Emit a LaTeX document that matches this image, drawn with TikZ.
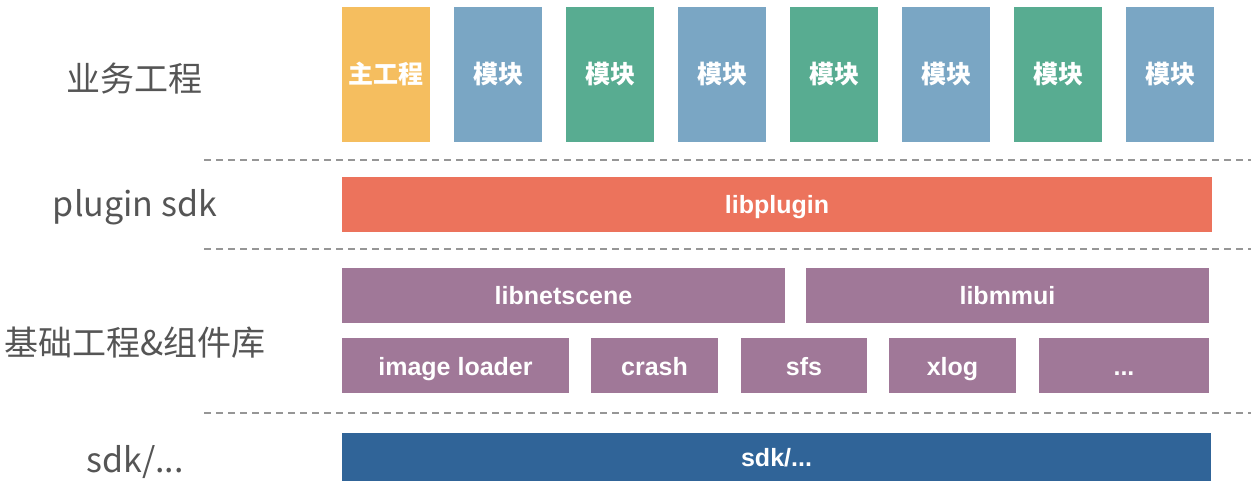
\documentclass[tikz,border=0pt]{standalone}
\usepackage{fontspec}
\setmainfont{Liberation Sans}
\newfontfamily\cjk{Noto Sans CJK SC}
\usetikzlibrary{positioning}
\definecolor{mainorange}{RGB}{245,190,95}
\definecolor{modblue}{RGB}{122,166,196}
\definecolor{modgreen}{RGB}{88,172,145}
\definecolor{pluginred}{RGB}{236,115,92}
\definecolor{basepurple}{RGB}{160,120,152}
\definecolor{sdkblue}{RGB}{48,100,152}
\definecolor{labelgray}{RGB}{85,85,85}
\definecolor{sepgray}{RGB}{150,150,150}
\begin{document}
\begin{tikzpicture}[
    x=1pt, y=-1pt,
    node distance=24pt,
    layer/.style={text=labelgray, inner sep=0pt, font=\cjk\fontsize{34}{40}\selectfont},
    block/.style={rectangle, inner sep=0pt, outer sep=0pt, text=white, minimum height=55pt, text height=21pt, text depth=2pt, font=\bfseries\fontsize{25}{30}\selectfont},
    module/.style={block, minimum width=88pt, minimum height=135pt, font=\cjk\bfseries\fontsize{25}{30}\selectfont},
    sep/.style={sepgray, line width=1.2pt, dash pattern=on 7pt off 5pt}
]
\useasboundingbox (0,0) rectangle (1251,497);

% layer names
\node[layer] (bizlabel) at (134,79) {业务工程};
\node[layer] (pluginlabel) at (135,207) {plugin sdk};
\node[layer] (baselabel) at (135,343) {基础工程\&组件库};
\node[layer] (sdklabel) at (135,462) {sdk/...};

% business layer
\node[module, fill=mainorange, anchor=north west] (main) at (342,7) {主工程};
\node[module, fill=modblue, right=of main] (modA) {模块};
\node[module, fill=modgreen, right=of modA] (modB) {模块};
\node[module, fill=modblue, right=of modB] (modC) {模块};
\node[module, fill=modgreen, right=of modC] (modD) {模块};
\node[module, fill=modblue, right=of modD] (modE) {模块};
\node[module, fill=modgreen, right=of modE] (modF) {模块};
\node[module, fill=modblue, right=of modF] (modG) {模块};

% plugin layer
\node[block, fill=pluginred, minimum width=870pt, anchor=north west] (libplugin) at (342,177) {libplugin};

% base layer
\node[block, fill=basepurple, minimum width=443pt, anchor=north west] (libnetscene) at (342,268) {libnetscene};
\node[block, fill=basepurple, minimum width=403pt, right=21pt of libnetscene] (libmmui) {libmmui};
\node[block, fill=basepurple, minimum width=227pt, anchor=north west] (imgloader) at (342,338) {image loader};
\node[block, fill=basepurple, minimum width=127pt, right=22pt of imgloader] (crash) {crash};
\node[block, fill=basepurple, minimum width=126pt, right=23pt of crash] (sfs) {sfs};
\node[block, fill=basepurple, minimum width=127pt, right=22pt of sfs] (xlog) {xlog};
\node[block, fill=basepurple, minimum width=170pt, right=23pt of xlog] (more) {...};

% sdk layer
\node[block, fill=sdkblue, minimum width=869pt, minimum height=48pt, anchor=north west] (sdk) at (342,433) {sdk/...};

% separators
\draw[sep] (204,160) -- (1251,160);
\draw[sep] (204,249) -- (1251,249);
\draw[sep] (204,413) -- (1251,413);
\end{tikzpicture}
\end{document}
